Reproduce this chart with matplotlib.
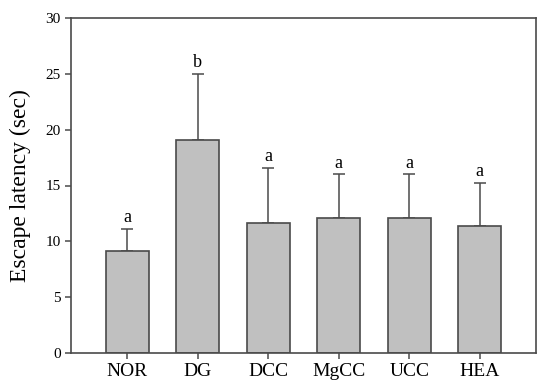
import numpy as np
import matplotlib
matplotlib.use('Agg')
import matplotlib.pyplot as plt

plt.rcParams['font.family'] = ['Liberation Serif', 'DejaVu Serif']

# ── data ──
groups = ['NOR', 'DG', 'DCC', 'MgCC', 'UCC', 'HEA']
means = [9.1, 19.1, 11.6, 12.1, 12.1, 11.4]
errs = [2.0, 5.9, 5.0, 3.9, 3.9, 3.8]
letters = ['a', 'b', 'a', 'a', 'a', 'a']

EDGE = '#4a4a4a'

fig = plt.figure(figsize=(5.5, 3.92), dpi=100)
ax = fig.add_axes([71 / 550, 1 - 353 / 392, 465 / 550, 335 / 392])

x = np.arange(len(groups))
ax.bar(x, means, width=0.61, color='#c0c0c0', edgecolor=EDGE, linewidth=1.2, zorder=2)
ax.errorbar(x, means, yerr=[np.zeros(len(errs)), errs], fmt='none',
            ecolor=EDGE, elinewidth=1.1, capsize=4, capthick=1.1, zorder=1)

for xi, m, e, lab in zip(x, means, errs, letters):
    ax.text(xi, m + e + 0.25, lab, ha='center', va='bottom', fontsize=13)

ax.set_xlim(-0.8, 5.8)
ax.set_ylim(0, 30)
ax.set_yticks(range(0, 31, 5))
ax.set_xticks(x)
ax.set_xticklabels(groups, fontsize=14)
ax.tick_params(axis='y', labelsize=11, direction='out', length=4, color=EDGE, width=1.1)
ax.tick_params(axis='x', direction='out', length=4, color=EDGE, width=1.1, pad=3)
ax.set_ylabel('Escape latency (sec)', fontsize=17, labelpad=10)

for s in ax.spines.values():
    s.set_color(EDGE)
    s.set_linewidth(1.2)

fig.savefig('out.png', dpi=100)
